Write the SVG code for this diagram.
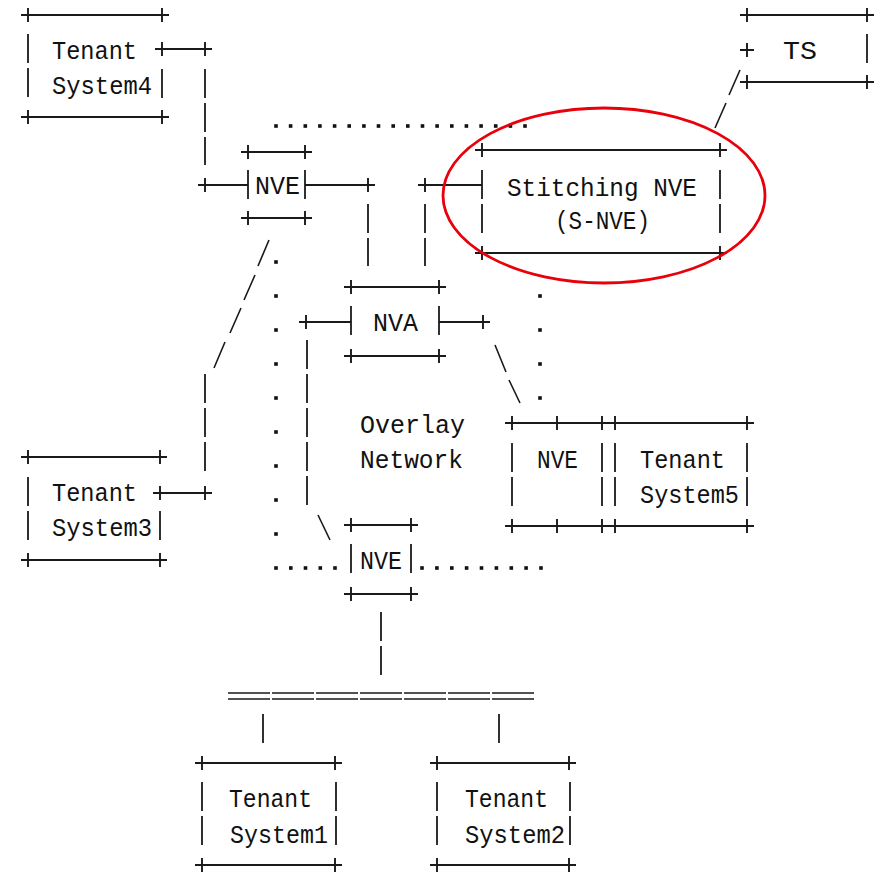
<svg xmlns="http://www.w3.org/2000/svg" xmlns:xlink="http://www.w3.org/1999/xlink" width="879" height="873" viewBox="0 0 879 873">
<defs>
<style>
.ln{stroke:#1a1a1a;stroke-width:1.8;fill:none}
.vb{stroke:#1a1a1a;stroke-width:1.8;fill:none;stroke-dasharray:29 5}
.sl{stroke:#1a1a1a;stroke-width:1.6;fill:none}
.pl{stroke:#1a1a1a;stroke-width:1.9;fill:none}
.dbl{stroke:#1a1a1a;stroke-width:1.6;fill:none;stroke-dasharray:42 2}
.t{font-family:"Liberation Mono","DejaVu Sans Mono",monospace;font-size:25px;fill:#111}
.ring{stroke:#e8000b;stroke-width:2.8;fill:none}
</style>
<path id="p" class="pl" d="M-7,0H7M0,-7V7"/>
<rect id="d" x="-1.8" y="-1.8" width="3.6" height="3.6" fill="#111"/>
</defs>
<rect width="879" height="873" fill="#fff"/>

<g id="connectors">
<!-- TS4 to top NVE -->
<path class="ln" d="M162,49H211"/>
<use href="#p" x="162" y="49"/><use href="#p" x="205" y="49"/>
<path class="vb" d="M205,69V165"/>
<path class="ln" d="M199,185H248"/>
<use href="#p" x="205" y="185"/>
<!-- top NVE to NVA -->
<path class="ln" d="M305,185H374"/>
<use href="#p" x="368" y="185"/>
<path class="vb" d="M368,204V266"/>
<!-- S-NVE to NVA -->
<path class="ln" d="M419,185H482"/>
<use href="#p" x="425" y="185"/>
<path class="vb" d="M425,204V266"/>
<!-- TS to S-NVE -->
<path class="sl" d="M740,70L729,95M726,103L715,128"/>
<!-- top NVE to TS3 -->
<path class="sl" d="M269,240L258,266M255,275L244,300M241,308L230,333M225,342L214,368"/>
<path class="vb" d="M205,374V472"/>
<path class="ln" d="M160,493H211"/>
<use href="#p" x="160" y="493"/><use href="#p" x="205" y="493"/>
<!-- NVA to bottom NVE -->
<path class="ln" d="M300,322H351"/>
<use href="#p" x="306" y="322"/>
<path class="vb" d="M307,340V506"/>
<path class="sl" d="M318,515L330,540"/>
<!-- NVA to right NVE -->
<path class="ln" d="M439,322H489"/>
<use href="#p" x="483" y="322"/>
<path class="sl" d="M495,345L506,372M509,380L520,403"/>
<!-- bottom NVE to LAN -->
<path class="vb" d="M381,612V675"/>
<path class="dbl" d="M228,693H534M228,699H534"/>
<path class="vb" d="M263,714V743"/>
<path class="vb" d="M499,714V743"/>
</g>

<g id="overlay-boundary">
<use href="#d" x="276" y="126"/><use href="#d" x="290.6" y="126"/><use href="#d" x="305.3" y="126"/><use href="#d" x="319.9" y="126"/><use href="#d" x="334.6" y="126"/><use href="#d" x="349.2" y="126"/><use href="#d" x="363.9" y="126"/><use href="#d" x="378.5" y="126"/><use href="#d" x="393.2" y="126"/><use href="#d" x="407.8" y="126"/><use href="#d" x="422.5" y="126"/><use href="#d" x="437.1" y="126"/><use href="#d" x="451.8" y="126"/><use href="#d" x="466.4" y="126"/><use href="#d" x="481.1" y="126"/><use href="#d" x="495.7" y="126"/><use href="#d" x="510.4" y="126"/><use href="#d" x="525" y="126"/>
<use href="#d" x="276" y="262"/><use href="#d" x="276" y="296"/><use href="#d" x="276" y="330"/><use href="#d" x="276" y="364"/><use href="#d" x="276" y="398"/><use href="#d" x="276" y="432"/><use href="#d" x="276" y="466"/><use href="#d" x="276" y="500"/><use href="#d" x="276" y="534"/>
<use href="#d" x="276" y="568"/><use href="#d" x="290.8" y="568"/><use href="#d" x="305.5" y="568"/><use href="#d" x="320.3" y="568"/><use href="#d" x="335" y="568"/>
<use href="#d" x="422" y="568"/><use href="#d" x="436.9" y="568"/><use href="#d" x="451.8" y="568"/><use href="#d" x="466.6" y="568"/><use href="#d" x="481.5" y="568"/><use href="#d" x="496.4" y="568"/><use href="#d" x="511.3" y="568"/><use href="#d" x="526.1" y="568"/><use href="#d" x="541" y="568"/>
<use href="#d" x="540" y="296"/><use href="#d" x="540" y="330"/><use href="#d" x="540" y="364"/><use href="#d" x="540" y="398"/>
<text class="t" x="360" y="433" textLength="105" lengthAdjust="spacingAndGlyphs">Overlay</text>
<text class="t" x="360" y="468" textLength="103" lengthAdjust="spacingAndGlyphs">Network</text>
</g>

<g id="tenant-system4">
<path class="ln" d="M21,15H169M21,117H169"/>
<use href="#p" x="28" y="15"/><use href="#p" x="162" y="15"/><use href="#p" x="28" y="117"/><use href="#p" x="162" y="117"/>
<path class="vb" d="M28,34V98"/><path class="vb" d="M162,69V98"/>
<text class="t" x="52" y="59" textLength="85" lengthAdjust="spacingAndGlyphs">Tenant</text>
<text class="t" x="52" y="94" textLength="100" lengthAdjust="spacingAndGlyphs">System4</text>
</g>

<g id="nve-top">
<path class="ln" d="M241,152H312M241,218H312"/>
<use href="#p" x="248" y="152"/><use href="#p" x="305" y="152"/><use href="#p" x="248" y="218"/><use href="#p" x="305" y="218"/>
<path class="vb" d="M248,170V199"/><path class="vb" d="M305,170V199"/>
<text class="t" x="255" y="194" textLength="45" lengthAdjust="spacingAndGlyphs">NVE</text>
</g>

<g id="stitching-nve">
<path class="ln" d="M475,150H727M475,253H727"/>
<use href="#p" x="482" y="150"/><use href="#p" x="720" y="150"/><use href="#p" x="482" y="253"/><use href="#p" x="720" y="253"/>
<path class="vb" d="M482,170V233"/><path class="vb" d="M720,170V233"/>
<text class="t" x="507" y="196" textLength="190" lengthAdjust="spacingAndGlyphs">Stitching NVE</text>
<text class="t" x="555" y="229" textLength="95" lengthAdjust="spacingAndGlyphs">(S-NVE)</text>
<ellipse class="ring" cx="604" cy="195.5" rx="161" ry="87.5"/>
</g>

<g id="ts">
<path class="ln" d="M740,15H874M740,82H874"/>
<use href="#p" x="747" y="15"/><use href="#p" x="867" y="15"/><use href="#p" x="747" y="82"/><use href="#p" x="867" y="82"/>
<use href="#p" x="747" y="50"/>
<path class="vb" d="M867,34V63"/>
<text class="t" x="783" y="59" textLength="34" lengthAdjust="spacingAndGlyphs">TS</text>
</g>

<g id="nva">
<path class="ln" d="M344,287H446M344,356H446"/>
<use href="#p" x="351" y="287"/><use href="#p" x="439" y="287"/><use href="#p" x="351" y="356"/><use href="#p" x="439" y="356"/>
<path class="vb" d="M351,306V335"/><path class="vb" d="M439,306V335"/>
<text class="t" x="373" y="331" textLength="45" lengthAdjust="spacingAndGlyphs">NVA</text>
</g>

<g id="nve-right">
<path class="ln" d="M505,423H608M505,526H608"/>
<use href="#p" x="512" y="423"/><use href="#p" x="557" y="423"/><use href="#p" x="602" y="423"/>
<use href="#p" x="512" y="526"/><use href="#p" x="557" y="526"/><use href="#p" x="602" y="526"/>
<path class="vb" d="M512,443V506"/><path class="vb" d="M602,443V506"/>
<text class="t" x="537" y="468" textLength="41" lengthAdjust="spacingAndGlyphs">NVE</text>
</g>

<g id="tenant-system5">
<path class="ln" d="M609,423H754M609,526H754"/>
<use href="#p" x="615" y="423"/><use href="#p" x="747" y="423"/><use href="#p" x="615" y="526"/><use href="#p" x="747" y="526"/>
<path class="vb" d="M615,443V506"/><path class="vb" d="M747,443V506"/>
<text class="t" x="640" y="468" textLength="85" lengthAdjust="spacingAndGlyphs">Tenant</text>
<text class="t" x="640" y="503" textLength="99" lengthAdjust="spacingAndGlyphs">System5</text>
</g>

<g id="tenant-system3">
<path class="ln" d="M21,457H167M21,560H167"/>
<use href="#p" x="28" y="457"/><use href="#p" x="160" y="457"/><use href="#p" x="28" y="560"/><use href="#p" x="160" y="560"/>
<path class="vb" d="M28,477V540"/><path class="vb" d="M160,511V540"/>
<text class="t" x="52" y="501" textLength="85" lengthAdjust="spacingAndGlyphs">Tenant</text>
<text class="t" x="52" y="536" textLength="100" lengthAdjust="spacingAndGlyphs">System3</text>
</g>

<g id="nve-bottom">
<path class="ln" d="M344,525H418M344,594H418"/>
<use href="#p" x="351" y="525"/><use href="#p" x="411" y="525"/><use href="#p" x="351" y="594"/><use href="#p" x="411" y="594"/>
<path class="vb" d="M351,544V573"/><path class="vb" d="M411,544V573"/>
<text class="t" x="360" y="569" textLength="42" lengthAdjust="spacingAndGlyphs">NVE</text>
</g>

<g id="tenant-system1">
<path class="ln" d="M195,763H342M195,865H342"/>
<use href="#p" x="202" y="763"/><use href="#p" x="335" y="763"/><use href="#p" x="202" y="865"/><use href="#p" x="335" y="865"/>
<path class="vb" d="M202,782V846"/><path class="vb" d="M336,782V846"/>
<text class="t" x="229" y="807" textLength="83" lengthAdjust="spacingAndGlyphs">Tenant</text>
<text class="t" x="230" y="843" textLength="98" lengthAdjust="spacingAndGlyphs">System1</text>
</g>

<g id="tenant-system2">
<path class="ln" d="M430,763H576M430,865H576"/>
<use href="#p" x="437" y="763"/><use href="#p" x="569" y="763"/><use href="#p" x="437" y="865"/><use href="#p" x="569" y="865"/>
<path class="vb" d="M437,782V846"/><path class="vb" d="M570,782V846"/>
<text class="t" x="465" y="807" textLength="83" lengthAdjust="spacingAndGlyphs">Tenant</text>
<text class="t" x="465" y="843" textLength="100" lengthAdjust="spacingAndGlyphs">System2</text>
</g>
</svg>
